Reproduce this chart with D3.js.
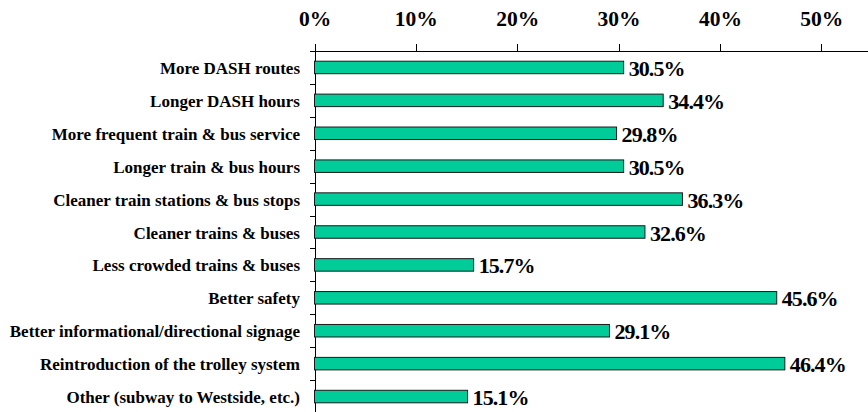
<!DOCTYPE html>
<html>
<head>
<meta charset="utf-8">
<script src="https://cdn.jsdelivr.net/npm/d3@7"></script>
<style>
  body { margin: 0; background: #fff; }
  svg { display: block; }
  .axis path, .axis line { stroke: #000; stroke-width: 1; shape-rendering: crispEdges; }
  .axis text { font-family: "Liberation Serif", "Times New Roman", serif; font-weight: bold; font-size: 21.5px; fill: #000; }
  .cat { font-family: "Liberation Serif", "Times New Roman", serif; font-weight: bold; font-size: 17px; fill: #000; }
  .val { font-family: "Liberation Serif", "Times New Roman", serif; font-weight: bold; font-size: 22px; letter-spacing: -0.9px; fill: #000; }
</style>
</head>
<body>
<svg class="chart" width="868" height="412"></svg>
<script>
// survey answers, top to bottom
var categories = [
  "More DASH routes",
  "Longer DASH hours",
  "More frequent train & bus service",
  "Longer train & bus hours",
  "Cleaner train stations & bus stops",
  "Cleaner trains & buses",
  "Less crowded trains & buses",
  "Better safety",
  "Better informational/directional signage",
  "Reintroduction of the trolley system",
  "Other (subway to Westside, etc.)"
];
var values = [30.5, 34.4, 29.8, 30.5, 36.3, 32.6, 15.7, 45.6, 29.1, 46.4, 15.1];
var tickValues = [0, 10, 20, 30, 40, 50];

var svg = d3.select(".chart"),
    plotLeft = 314.5, plotTop = 51, plotRight = 872, plotBottom = 413;

var x = d3.scaleLinear().domain([0, 55]).range([plotLeft, plotRight]);
var y = d3.scaleBand().domain(categories).range([plotTop, plotBottom]).paddingInner(0.62).paddingOuter(0.31);
var yTicks = d3.scaleLinear().domain([0, categories.length]).range([plotTop, plotBottom]);

// top percent axis
svg.append("g")
    .attr("class", "axis")
    .attr("transform", "translate(0," + plotTop + ")")
    .call(d3.axisTop(x).tickValues(tickValues).tickSize(7).tickSizeOuter(0).tickPadding(18)
      .tickFormat(function(d) { return d + "%"; }));

// left axis with ticks between categories
svg.append("g")
    .attr("class", "axis")
    .attr("transform", "translate(" + plotLeft + ",0)")
    .call(d3.axisLeft(yTicks).ticks(categories.length).tickSize(5).tickSizeOuter(0).tickFormat(""));

// bars
svg.selectAll(".bar")
  .data(values)
  .enter().append("rect")
    .attr("class", "bar")
    .attr("x", x(0))
    .attr("y", function(d, i) { return y(categories[i]); })
    .attr("width", function(d) { return x(d) - x(0); })
    .attr("height", y.bandwidth())
    .attr("fill", "#00cc99")
    .attr("stroke", "#1a1a1a")
    .attr("stroke-width", 1);

// category labels
svg.selectAll(".cat")
  .data(categories)
  .enter().append("text")
    .attr("class", "cat")
    .attr("x", plotLeft - 14.5)
    .attr("y", function(d) { return y(d) + y.bandwidth() / 2 + 6.5; })
    .attr("text-anchor", "end")
    .text(function(d) { return d; });

// value labels
svg.selectAll(".val")
  .data(values)
  .enter().append("text")
    .attr("class", "val")
    .attr("x", function(d) { return x(d) + 5; })
    .attr("y", function(d, i) { return y(categories[i]) + y.bandwidth() / 2 + 8.5; })
    .text(function(d) { return d.toFixed(1) + "%"; });
</script>
</body>
</html>
